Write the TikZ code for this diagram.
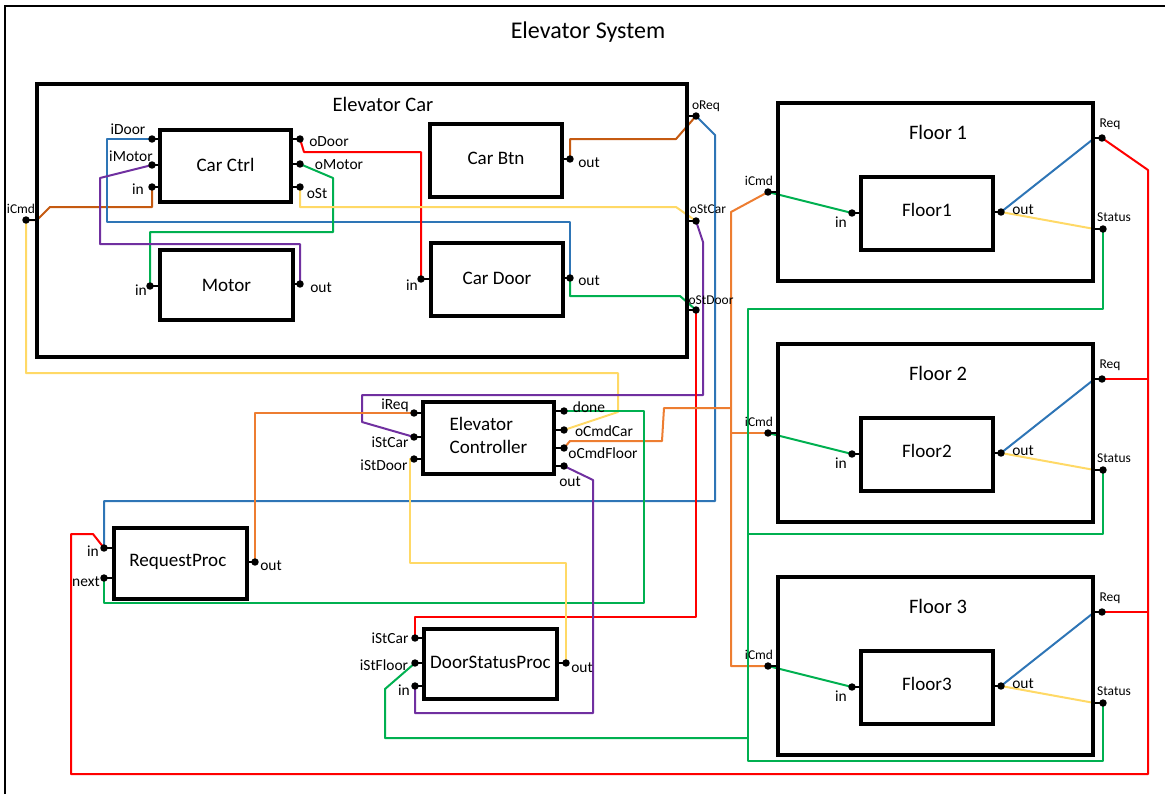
\documentclass[tikz,border=0pt]{standalone}
\usepackage{fontspec}
\setmainfont{Carlito}
\usetikzlibrary{fit}
\pgfdeclarelayer{wires}
\pgfsetlayers{wires,main}
\definecolor{wbrown}{HTML}{C55A11}
\definecolor{wblue}{HTML}{2E75B6}
\definecolor{wred}{HTML}{FF0000}
\definecolor{wgreen}{HTML}{00B050}
\definecolor{wyellow}{HTML}{FFD966}
\definecolor{wpurple}{HTML}{7030A0}
\definecolor{worange}{HTML}{ED7D31}
\newcommand\pst[2]{\draw[stubline] (#1.center) -- (#1.center -| #2);}
\begin{document}
\begin{tikzpicture}[x=0.75pt,y=-0.75pt,
  box/.style={draw, line width=2.3pt, inner sep=0pt},
  blab/.style={inner sep=0pt, font=\fontsize{14.3}{17}\selectfont},
  ttl/.style={inner sep=0pt, font=\fontsize{18}{21}\selectfont},
  btitle/.style={inner sep=0pt, font=\fontsize{15.4}{18}\selectfont},
  port/.style={circle, fill=black, inner sep=0pt, minimum size=5.6pt},
  plab/.style={inner sep=0pt, font=\fontsize{11.6}{13}\selectfont},
  slab/.style={inner sep=0pt, font=\fontsize{10.1}{12}\selectfont},
  wire/.style={line width=1.5pt, line join=round},
  stubline/.style={line width=0.9pt},
]
\useasboundingbox (0,0) rectangle (1165,794);
\draw[line width=2.2pt] (5,794) -- (5,6) -- (1165,6);
\node[ttl] (title) at (588,32) {Elevator System};

% ---------- Elevator Car ----------
\node[box, fit={(37,84) (687,357)}] (car) {};
\node[btitle] (car-title) at (383,104) {Elevator Car};
\node[box, fit={(160,130) (291,202)}] (cc) {};
\node[box, fit={(160,250) (293,320)}] (mot) {};
\node[box, fit={(430,124) (562,197)}] (cb) {};
\node[box, fit={(431,243) (563,316)}] (cd) {};
\node[blab] (cc-lab) at ([yshift=1pt]cc.center) {Car Ctrl};
\node[blab] (mot-lab) at ([yshift=0pt]mot.center) {Motor};
\node[blab] (cb-lab) at ([yshift=1.5pt]cb.center) {Car Btn};
\node[blab] (cd-lab) at ([yshift=0.5pt]cd.center) {Car Door};

\node[port] (cc-idoor) at (152,139) {};
\node[port] (cc-imotor) at (152,165) {};
\node[port] (cc-in) at (152,187) {};
\node[port] (cc-odoor) at (300,139) {};
\node[port] (cc-omotor) at (300,164) {};
\node[port] (cc-ost) at (300,187) {};
\node[port] (mot-in) at (150,286) {};
\node[port] (mot-out) at (300,284) {};
\node[port] (cb-out) at (570,159) {};
\node[port] (cd-in) at (421,279) {};
\node[port] (cd-out) at (570,278) {};
\node[port] (car-icmd) at (26,220) {};
\node[port] (car-oreq) at (696,116) {};
\node[port] (car-ostcar) at (696,221) {};
\node[port] (car-ostdoor) at (696,310) {};
\pst{cc-idoor}{cc.west} \pst{cc-imotor}{cc.west} \pst{cc-in}{cc.west}
\pst{cc-odoor}{cc.east} \pst{cc-omotor}{cc.east} \pst{cc-ost}{cc.east}
\pst{mot-in}{mot.west} \pst{mot-out}{mot.east}
\pst{cb-out}{cb.east} \pst{cd-in}{cd.west} \pst{cd-out}{cd.east}
\pst{car-icmd}{car.west} \pst{car-oreq}{car.east} \pst{car-ostcar}{car.east} \pst{car-ostdoor}{car.east}

\node[plab] (l-cc-idoor) at (128,129) {iDoor};
\node[plab] (l-cc-imotor) at (131,156) {iMotor};
\node[plab] (l-cc-in) at (138,189) {in};
\node[plab] (l-cc-odoor) at (329,142) {oDoor};
\node[plab] (l-cc-omotor) at (339,165) {oMotor};
\node[plab] (l-cc-ost) at (317,194) {oSt};
\node[plab] (l-mot-in) at (141,290) {in};
\node[plab] (l-mot-out) at (321,288) {out};
\node[plab] (l-cb-out) at (589,163) {out};
\node[plab] (l-cd-in) at (412,285) {in};
\node[plab] (l-cd-out) at (589,281) {out};
\node[slab] (l-car-icmd) at (21,209) {iCmd};
\node[slab] (l-car-oreq) at (706,106) {oReq};
\node[slab] (l-car-ostcar) at (708,209) {oStCar};
\node[slab] (l-car-ostdoor) at (711,300) {oStDoor};

% ---------- Elevator Controller ----------
\node[box, fit={(423,402) (554,474)}] (ec) {};
\node[blab, align=left] (ec-lab) at ([yshift=2pt]ec.center) {Elevator\\Controller};
\node[port] (ec-ireq) at (414,413) {};
\node[port] (ec-istcar) at (414,437) {};
\node[port] (ec-istdoor) at (414,459) {};
\node[port] (ec-done) at (564,411) {};
\node[port] (ec-ocmdcar) at (564,430) {};
\node[port] (ec-ocmdfloor) at (564,448) {};
\node[port] (ec-out) at (564,466) {};
\pst{ec-ireq}{ec.west} \pst{ec-istcar}{ec.west} \pst{ec-istdoor}{ec.west}
\pst{ec-done}{ec.east} \pst{ec-ocmdcar}{ec.east} \pst{ec-ocmdfloor}{ec.east} \pst{ec-out}{ec.east}
\node[plab] (l-ec-ireq) at (395,405) {iReq};
\node[plab] (l-ec-istcar) at (390,442) {iStCar};
\node[plab] (l-ec-istdoor) at (384,465) {iStDoor};
\node[plab] (l-ec-done) at (589,407) {done};
\node[plab] (l-ec-ocmdcar) at (604,431) {oCmdCar};
\node[plab] (l-ec-ocmdfloor) at (603,453) {oCmdFloor};
\node[plab] (l-ec-out) at (570,482) {out};

% ---------- RequestProc ----------
\node[box, fit={(114,528) (247,599)}] (rp) {};
\node[blab] (rp-lab) at ([xshift=-2pt,yshift=1.5pt]rp.center) {RequestProc};
\node[port] (rp-in) at (104,548) {};
\node[port] (rp-next) at (104,578) {};
\node[port] (rp-out) at (255,562) {};
\pst{rp-in}{rp.west} \pst{rp-next}{rp.west} \pst{rp-out}{rp.east}
\node[plab] (l-rp-in) at (93,551) {in};
\node[plab] (l-rp-next) at (86,582) {next};
\node[plab] (l-rp-out) at (271,566) {out};

% ---------- DoorStatusProc ----------
\node[box, fit={(424,629) (557,699)}] (dsp) {};
\node[blab] (dsp-lab) at ([yshift=1pt]dsp.center) {DoorStatusProc};
\node[port] (dsp-istcar) at (415,638) {};
\node[port] (dsp-istfloor) at (415,663) {};
\node[port] (dsp-in) at (415,686) {};
\node[port] (dsp-out) at (566,663) {};
\pst{dsp-istcar}{dsp.west} \pst{dsp-istfloor}{dsp.west} \pst{dsp-in}{dsp.west} \pst{dsp-out}{dsp.east}
\node[plab] (l-dsp-istcar) at (390,638) {iStCar};
\node[plab] (l-dsp-istfloor) at (384,665) {iStFloor};
\node[plab] (l-dsp-in) at (404,690) {in};
\node[plab] (l-dsp-out) at (582,668) {out};

% ---------- Floors ----------
\foreach \n/\t in {1/103,2/344,3/577}{
  \node[box, fit={(778,\t) (1093,\t+178)}] (f\n) {};
  \node[btitle] (f\n-title) at (938,\t+29) {Floor \n};
  \node[box, fit={(861,\t+74) (993,\t+147)}] (f\n-box) {};
  \node[blab] (f\n-lab) at ([yshift=2.5pt]f\n-box.center) {Floor\n};
  \node[port] (f\n-icmd) at (768,\t+89) {};
  \node[port] (f\n-in) at (852,\t+110) {};
  \node[port] (f\n-out) at (1001,\t+109) {};
  \node[port] (f\n-req) at (1102,\t+35) {};
  \node[port] (f\n-status) at (1103,\t+126) {};
  \pst{f\n-icmd}{f\n.west} \pst{f\n-in}{f\n-box.west} \pst{f\n-out}{f\n-box.east}
  \pst{f\n-req}{f\n.east} \pst{f\n-status}{f\n.east}
  \node[slab] (l-f\n-icmd) at (759,\t+78) {iCmd};
  \node[plab] (l-f\n-in) at (841,\t+119) {in};
  \node[plab] (l-f\n-out) at (1023,\t+107) {out};
  \node[slab] (l-f\n-req) at (1110,\t+21) {Req};
  \node[slab] (l-f\n-status) at (1114,\t+114) {Status};
}

% ---------- junction points ----------
\coordinate (oj-ctrl) at (731,408);
\coordinate (oj-f2) at (731,433);
\coordinate (gj-dsp) at (748,738);
\coordinate (gj-f2) at (748,534);
\coordinate (rj-f2) at (1148,379);
\coordinate (rj-f3) at (1148,612);

% ---------- wires ----------
\begin{pgfonlayer}{wires}
\draw[wire,wbrown] (car-icmd.center) -- (37,220) -- (50,207) -| (cc-in.center);
\draw[wire,wbrown] (cb-out.center) |- (676,139) -- (car-oreq.center);
\draw[wire,wblue] (cd-out.center) |- (107,222) |- (cc-idoor.center);
\draw[wire,wgreen] (cd-out.center) |- (680,296) -- (car-ostdoor.center);
\draw[wire,wred] (cc-odoor.center) -- (304,152) -| (cd-in.center);
\draw[wire,wgreen] (cc-omotor.center) -- (333,178) -- (333,232) -| (mot-in.center);
\draw[wire,wpurple] (cc-imotor.center) -- (100,178) -- (100,244) -| (mot-out.center);
\draw[wire,wyellow] (cc-ost.center) |- (676,207) -- (car-ostcar.center);
\draw[wire,wyellow] (ec-ocmdcar.center) -- (618,412) -- (618,373) -| (car-icmd.center);
\draw[wire,wblue] (car-oreq.center) -- (715,135) -- (715,501) -| (rp-in.center);
\draw[wire,wpurple] (car-ostcar.center) -- (703,242) -- (703,395) -- (362,395) -- (362,422) -- (ec-istcar.center);
\draw[wire,wred] (car-ostdoor.center) -- (696,617) -| (dsp-istcar.center);
\draw[wire,worange] (rp-out.center) |- (ec-ireq.center);
\draw[wire,worange] (ec-ocmdfloor.center) -- (570,441) -- (662,441) -- (664,408) -- (oj-ctrl);
\draw[wire,worange] (f1-icmd.center) -- (731,212) |- (f3-icmd.center);
\draw[wire,worange] (oj-f2) -- (f2-icmd.center);
\draw[wire,wgreen] (ec-done.center) -| (644,603) -| (rp-next.center);
\draw[wire,wyellow] (dsp-out.center) |- (410,563) |- (ec-istdoor.center);
\draw[wire,wpurple] (ec-out.center) -- (593,480) -- (593,713) -| (dsp-in.center);
\draw[wire,wgreen] (dsp-istfloor.center) -- (385,689) |- (gj-dsp);
\draw[wire,wgreen] (f1-status.center) |- (748,309) -- (748,761) -| (f3-status.center);
\draw[wire,wgreen] (f2-status.center) |- (gj-f2);
\draw[wire,wred] (f1-req.center) -- (1148,170) -- (1148,774) -| (71,534) -- (93,534) -- (rp-in.center);
\draw[wire,wred] (f2-req.center) -- (rj-f2);
\draw[wire,wred] (f3-req.center) -- (rj-f3);
\foreach \n in {1,2,3}{
  \draw[wire,wgreen] (f\n-icmd.center) -- (f\n-in.center);
  \draw[wire,wblue] (f\n-out.center) -- (f\n-req.center -| f\n.east);
  \draw[wire,wyellow] (f\n-out.center) -- (f\n-status.center -| f\n.east);
}
\end{pgfonlayer}
\end{tikzpicture}
\end{document}
